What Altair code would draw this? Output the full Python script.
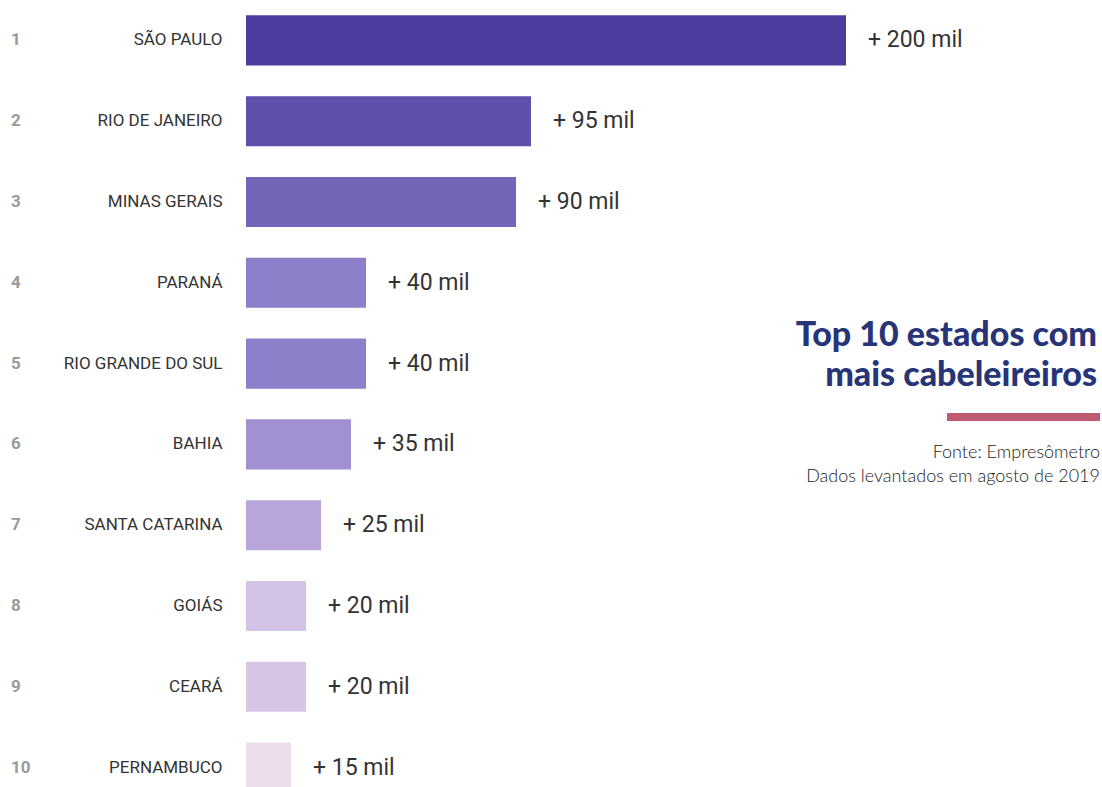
import altair as alt
import pandas as pd

ranks = ["1", "2", "3", "4", "5", "6", "7", "8", "9", "10"]
states = ["SÃO PAULO", "RIO DE JANEIRO", "MINAS GERAIS", "PARANÁ", "RIO GRANDE DO SUL",
          "BAHIA", "SANTA CATARINA", "GOIÁS", "CEARÁ", "PERNAMBUCO"]
values = [200, 95, 90, 40, 40, 35, 25, 20, 20, 15]
labels = ["+ 200 mil", "+ 95 mil", "+ 90 mil", "+ 40 mil", "+ 40 mil",
          "+ 35 mil", "+ 25 mil", "+ 20 mil", "+ 20 mil", "+ 15 mil"]
colors = ["#4a3d9e", "#5f50ac", "#7465b8", "#8e7fcb", "#8e7fcb",
          "#a190d2", "#b8a6da", "#d3c3e4", "#d6c5e5", "#eddcec"]

title_lines = ["Top 10 estados com", "mais cabeleireiros"]
source_lines = ["Fonte: Empresômetro", "Dados levantados em agosto de 2019"]

df = pd.DataFrame({"rank": ranks, "state": states, "value": values,
                   "label": labels, "color": colors})

W, H = 854, 808
LEFT = 246
xscale = alt.Scale(domain=[0, W / 3], nice=False, zero=True)
yscale = alt.Scale(domain=states, paddingInner=0.38, paddingOuter=0.19)
ysort = states

base = alt.Chart(df)

bars = base.mark_bar(cornerRadius=0).encode(
    x=alt.X("value:Q", scale=xscale, axis=None),
    y=alt.Y("state:N", scale=yscale, sort=ysort,
            axis=alt.Axis(title=None, domain=False, ticks=False, labelPadding=24,
                          labelFont="Roboto", labelFontSize=17, labelColor="#333333",
                          labelLimit=300)),
    color=alt.Color("color:N", scale=None),
)

vals = base.mark_text(align="left", baseline="middle", dx=22, font="Roboto",
                      fontSize=23, color="#333333").encode(
    x=alt.X("value:Q", scale=xscale),
    y=alt.Y("state:N", scale=yscale, sort=ysort),
    text="label:N",
)

rank_txt = base.mark_text(align="left", baseline="middle", font="Roboto",
                          fontWeight="bold", fontSize=17, color="#9a9a9a").encode(
    x=alt.value(11 - LEFT),
    y=alt.Y("state:N", scale=yscale, sort=ysort),
    text="rank:N",
)

title_layers = []
for line, ypos in zip(title_lines, [346, 386]):
    title_layers.append(
        alt.Chart(pd.DataFrame({"t": [line]})).mark_text(
            align="right", baseline="alphabetic", font="Lato", fontWeight=900,
            fontSize=34, color="#283478").encode(
            x=alt.value(1097 - LEFT), y=alt.value(ypos), text="t:N")
    )

rule = alt.Chart(pd.DataFrame({"t": ["r"]})).mark_rule(
    color="#c05a72", strokeWidth=8).encode(
    x=alt.value(947 - LEFT), x2=alt.value(1100 - LEFT), y=alt.value(417),
)

source_layers = []
for line, ypos in zip(source_lines, [458, 482]):
    source_layers.append(
        alt.Chart(pd.DataFrame({"t": [line]})).mark_text(
            align="right", baseline="alphabetic", font="Lato", fontWeight=300,
            fontSize=18, color="#222222").encode(
            x=alt.value(1100 - LEFT), y=alt.value(ypos), text="t:N")
    )

chart = alt.layer(bars, vals, rank_txt, *title_layers, rule, *source_layers).properties(
    width=W, height=H,
    autosize=alt.AutoSizeParams(type="none"),
    padding={"left": LEFT, "top": 0, "right": 2, "bottom": 0},
    background="white",
).configure_view(stroke=None)

chart.save("out.html", embed_options={"renderer": "svg", "actions": False})
